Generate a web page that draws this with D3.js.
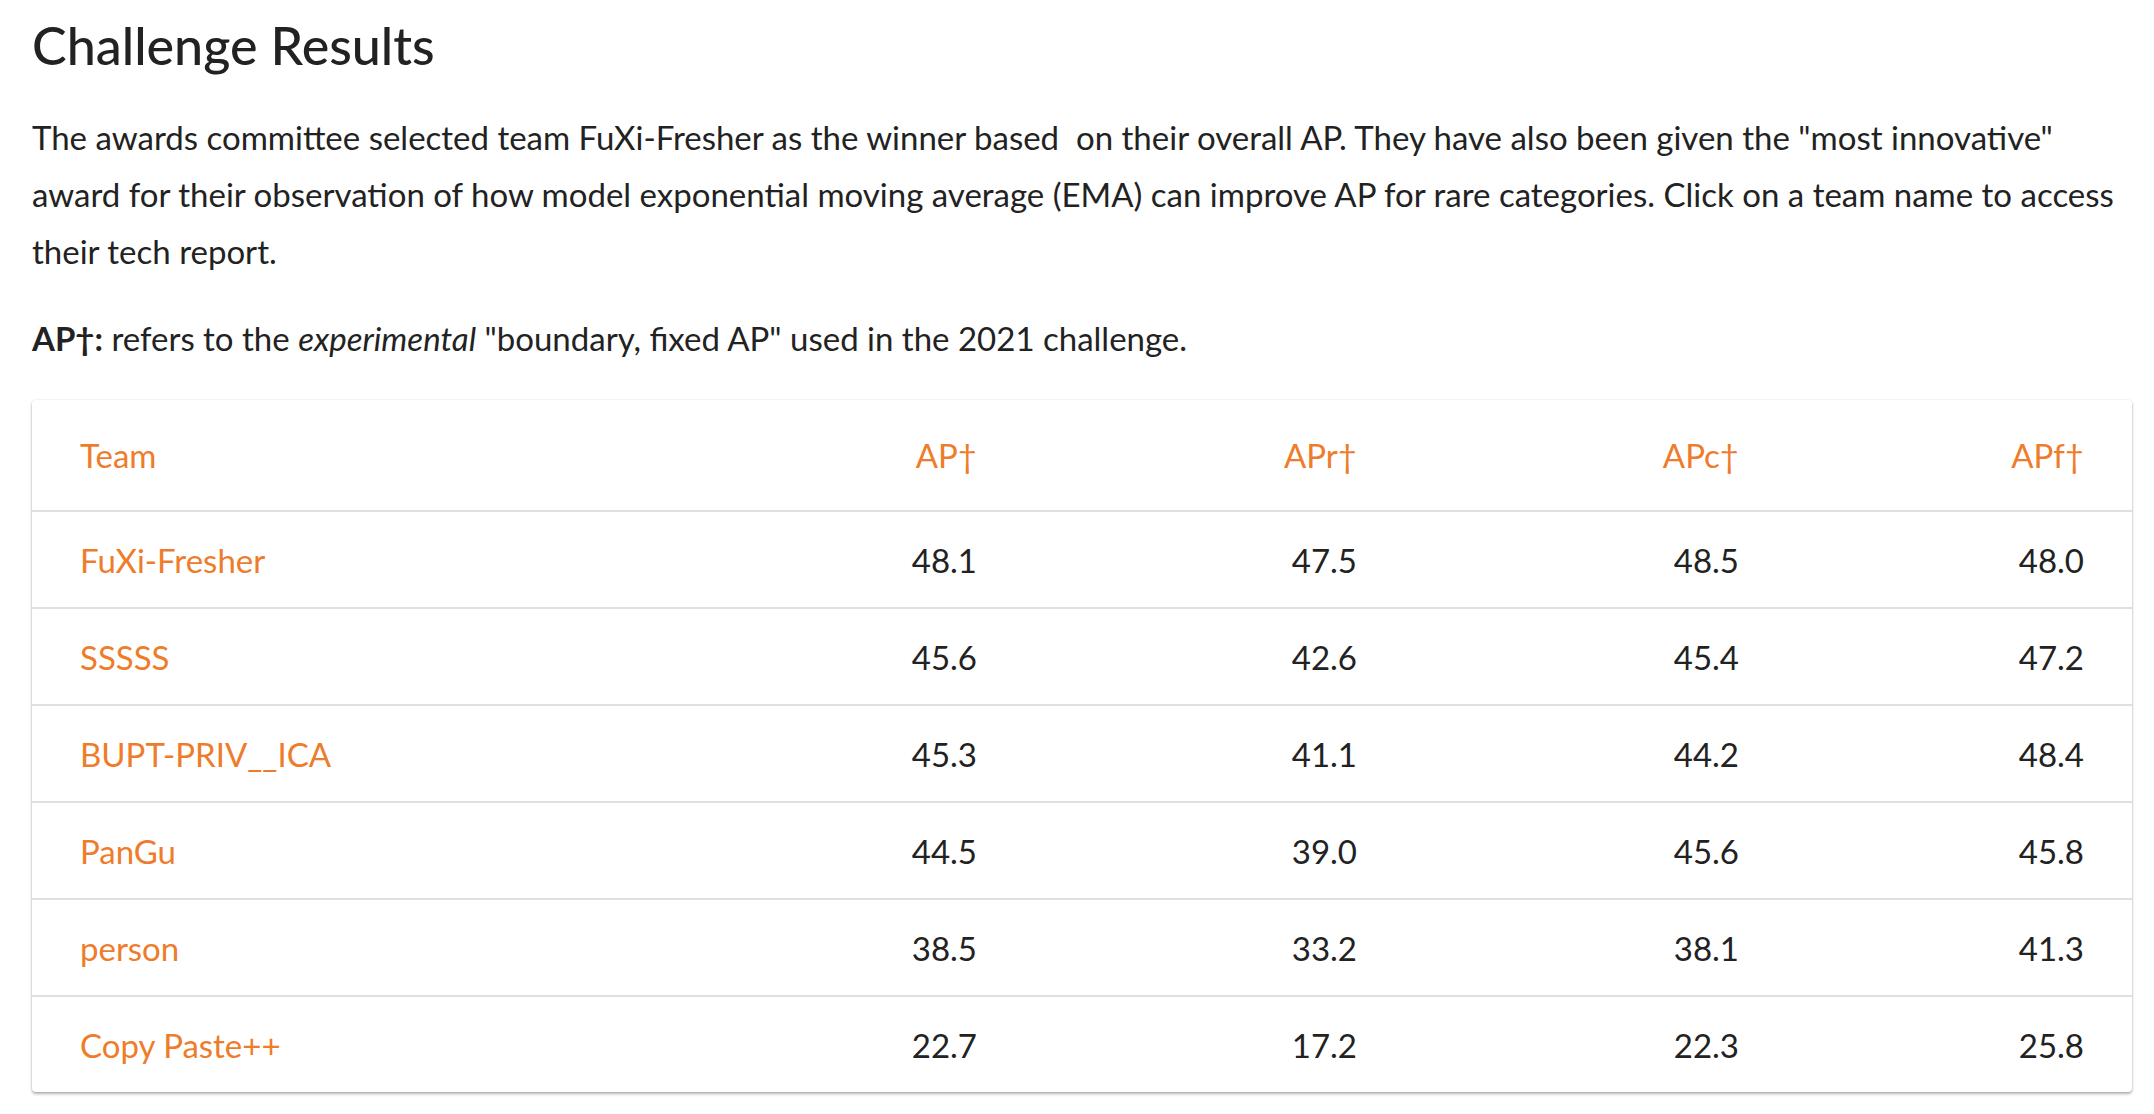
<!DOCTYPE html>
<html><head><meta charset="utf-8">
<script src="https://cdn.jsdelivr.net/npm/d3@7"></script>
<style>
body{margin:0;background:#fff;font-family:Lato,"Open Sans",sans-serif;color:#222;}
#wrap{position:absolute;left:32px;top:0;width:2100px;}
h2{font-weight:500;font-size:52px;margin:13px 0 0 0;line-height:64px;color:#222;}
p{font-size:33px;line-height:57px;margin:32px 0 0 0;width:2090px;}
p.ap{margin-top:30px;}
.card{position:absolute;left:0;top:400px;width:2100px;border-radius:4px;box-shadow:0 2px 3px rgba(0,0,0,.3),0 0 2px rgba(0,0,0,.12);}
table{border-collapse:collapse;width:2100px;table-layout:fixed;font-size:33px;}
th{color:#ee7c2a;font-weight:400;height:110px;text-align:right;padding:0 48px;}
td{height:95px;text-align:right;padding:0 48px;border-top:2px solid #e0e0e0;}
th:first-child,td:first-child{text-align:left;color:#ee7c2a;}
</style></head><body>
<div id="wrap">
<h2>Challenge Results</h2>
<p>The awards committee selected team FuXi-Fresher as the winner based&nbsp; on their overall AP. They have also been given the "most innovative" award for their observation of how model exponential moving average (EMA) can improve AP for rare categories. Click on a team name to access their tech report.</p>
<p class="ap"><b>AP†:</b> refers to the <i>experimental</i> "boundary, fixed AP" used in the 2021 challenge.</p>
<div class="card"><table id="t"></table></div>
</div>
<script>
const columns = ['Team', 'AP†', 'APr†', 'APc†', 'APf†'];
const teams = ['FuXi-Fresher', 'SSSSS', 'BUPT-PRIV__ICA', 'PanGu', 'person', 'Copy Paste++'];
const ap = [48.1, 45.6, 45.3, 44.5, 38.5, 22.7];
const apr = [47.5, 42.6, 41.1, 39.0, 33.2, 17.2];
const apc = [48.5, 45.4, 44.2, 45.6, 38.1, 22.3];
const apf = [48.0, 47.2, 48.4, 45.8, 41.3, 25.8];
const colWidths = [613, 380, 380, 382, 345];

const rows = teams.map((t, i) => [t, ap[i], apr[i], apc[i], apf[i]]);
const table = d3.select('#t');
table.append('colgroup').selectAll('col').data(colWidths).join('col').style('width', d => d + 'px');
table.append('tr').selectAll('th').data(columns).join('th').text(d => d);
table.selectAll('tr.r').data(rows).join('tr').attr('class', 'r')
  .selectAll('td').data(d => d).join('td')
  .text((d, i) => i === 0 ? d : d.toFixed(1));
</script>
</body></html>
